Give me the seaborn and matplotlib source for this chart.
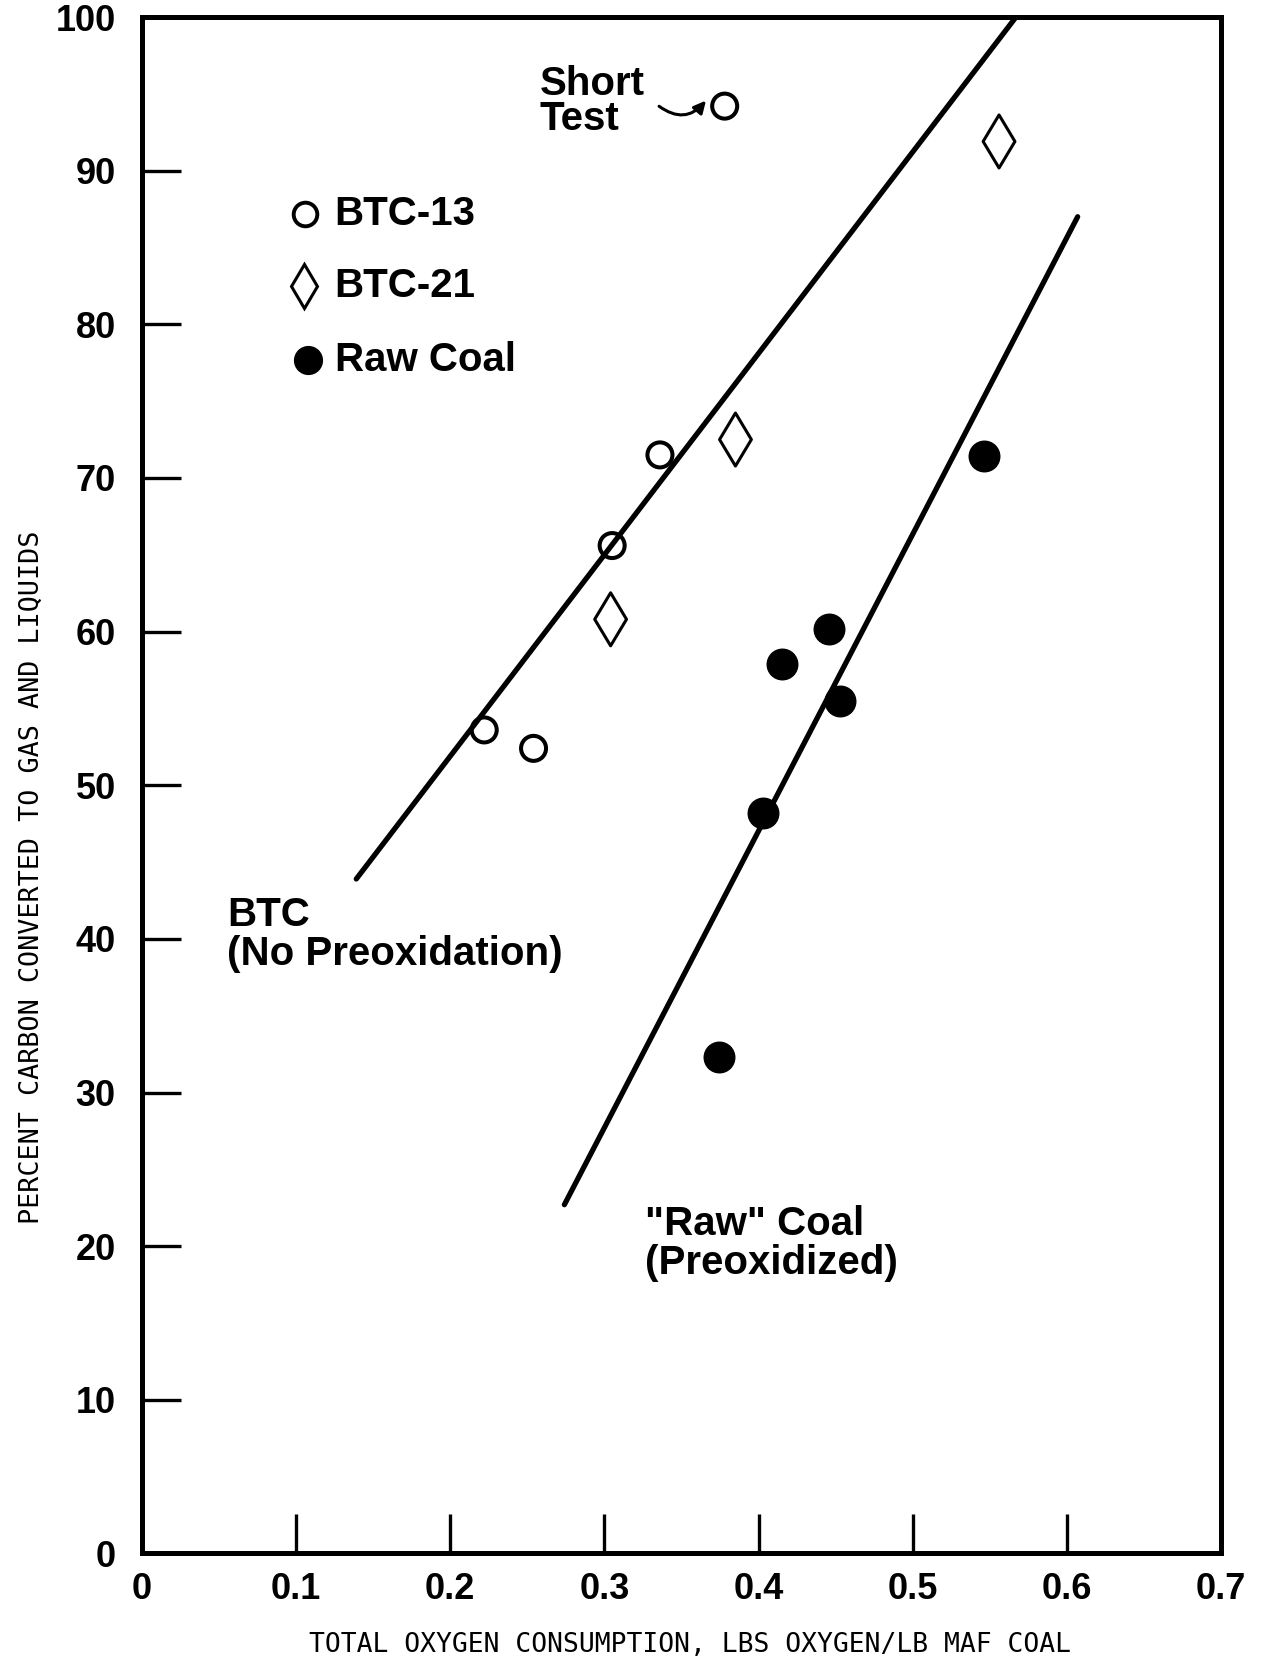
import matplotlib
matplotlib.use("Agg")
import matplotlib.pyplot as plt
import seaborn as sns

# Total oxygen consumption (lb O2 / lb MAF coal) vs. percent carbon converted
btc13_x = [0.222, 0.254, 0.305, 0.336, 0.378]
btc13_y = [53.6, 52.4, 65.6, 71.5, 94.2]
btc21_x = [0.304, 0.385, 0.556]
btc21_y = [60.8, 72.5, 91.9]
raw_x = [0.374, 0.403, 0.415, 0.446, 0.453, 0.546]
raw_y = [32.3, 48.2, 57.9, 60.2, 55.5, 71.4]

# Correlation lines drawn through each group (end points)
btc_line_x = [0.139, 0.567]
btc_line_y = [43.9, 100.0]
raw_line_x = [0.274, 0.607]
raw_line_y = [22.7, 87.0]

x_ticks = [0.0, 0.1, 0.2, 0.3, 0.4, 0.5, 0.6, 0.7]
x_tick_labels = ["0", "0.1", "0.2", "0.3", "0.4", "0.5", "0.6", "0.7"]
y_ticks = [0, 10, 20, 30, 40, 50, 60, 70, 80, 90, 100]
y_tick_labels = [str(v) for v in y_ticks]

legend_labels = ["BTC-13", "BTC-21", "Raw Coal"]

sns.set_style("white")
plt.rcParams["font.family"] = ["Liberation Sans", "DejaVu Sans"]

LETTER = dict(family=["Liberation Sans", "DejaVu Sans"], fontweight="bold", color="black")
MONO = dict(family=["DejaVu Sans Mono"], color="black")

fig = plt.figure(figsize=(12.67, 16.67), dpi=100)
ax = fig.add_axes([0.1121, 0.0681, 0.8516, 0.9217])

# Correlation lines
sns.lineplot(x=btc_line_x, y=btc_line_y, ax=ax, color="black", linewidth=3.8,
             sort=False, estimator=None)
sns.lineplot(x=raw_line_x, y=raw_line_y, ax=ax, color="black", linewidth=3.8,
             sort=False, estimator=None)

# Data points
sns.scatterplot(x=btc13_x, y=btc13_y, ax=ax, marker="o", s=18 ** 2, color="black",
                facecolors="none", edgecolor="black", linewidth=2.9, zorder=5)
sns.scatterplot(x=btc21_x, y=btc21_y, ax=ax, marker="d", s=27 ** 2, color="black",
                facecolors="none", edgecolor="black", linewidth=2.2, zorder=5)
sns.scatterplot(x=raw_x, y=raw_y, ax=ax, marker="o", s=22 ** 2, color="black",
                edgecolor="black", linewidth=1.0, zorder=5)

ax.set_xlim(0, 0.7)
ax.set_ylim(0, 100)

ax.set_xticks(x_ticks)
ax.set_xticklabels(x_tick_labels, fontsize=26, **LETTER)
ax.set_yticks(y_ticks)
ax.set_yticklabels(y_tick_labels, fontsize=26, **LETTER)
ax.tick_params(axis="both", which="major", direction="in", length=28, width=2.4,
               color="black", bottom=True, left=True, top=False, right=False)
ax.tick_params(axis="x", pad=13)
ax.tick_params(axis="y", pad=19)

for side in ["left", "right", "top", "bottom"]:
    ax.spines[side].set_visible(True)
    ax.spines[side].set_color("black")
    ax.spines[side].set_linewidth(3.6)

ax.set_xlabel("")
ax.set_ylabel("")

# Key
ax.plot([0.1056], [87.2], marker="o", ms=17, mfc="none", mec="black", mew=2.8, ls="none")
ax.plot([0.105], [82.5], marker="d", ms=22, mfc="none", mec="black", mew=2.2, ls="none")
ax.plot([0.1075], [77.7], marker="o", ms=20, mfc="black", mec="black", ls="none")
for yk, lab in zip([87.2, 82.5, 77.7], legend_labels):
    ax.text(0.125, yk, lab, fontsize=29, ha="left", va="center", **LETTER)

# Annotations
ax.text(0.258, 96.9, "Short\nTest", fontsize=29, ha="left", va="top",
        linespacing=0.9, **LETTER)
ax.annotate("", xy=(0.367, 94.7), xytext=(0.334, 94.3),
            arrowprops=dict(arrowstyle="-|>", color="black", lw=2.2,
                            mutation_scale=18,
                            connectionstyle="arc3,rad=0.5"))
ax.text(0.055, 42.8, "BTC\n(No Preoxidation)", fontsize=29, ha="left", va="top",
        linespacing=1.05, **LETTER)
ax.text(0.326, 22.7, "\"Raw\" Coal\n(Preoxidized)", fontsize=29, ha="left", va="top",
        linespacing=1.05, **LETTER)

# Axis titles
fig.text(690 / 1267, 1 - 1645 / 1667, "TOTAL OXYGEN CONSUMPTION, LBS OXYGEN/LB MAF COAL",
         fontsize=19, ha="center", va="center", **MONO)
fig.text(32 / 1267, 1 - 877 / 1667, "PERCENT CARBON CONVERTED TO GAS AND LIQUIDS",
         fontsize=19.3, ha="center", va="center", rotation=90, **MONO)

fig.savefig("out.png", dpi=100, facecolor="white")
